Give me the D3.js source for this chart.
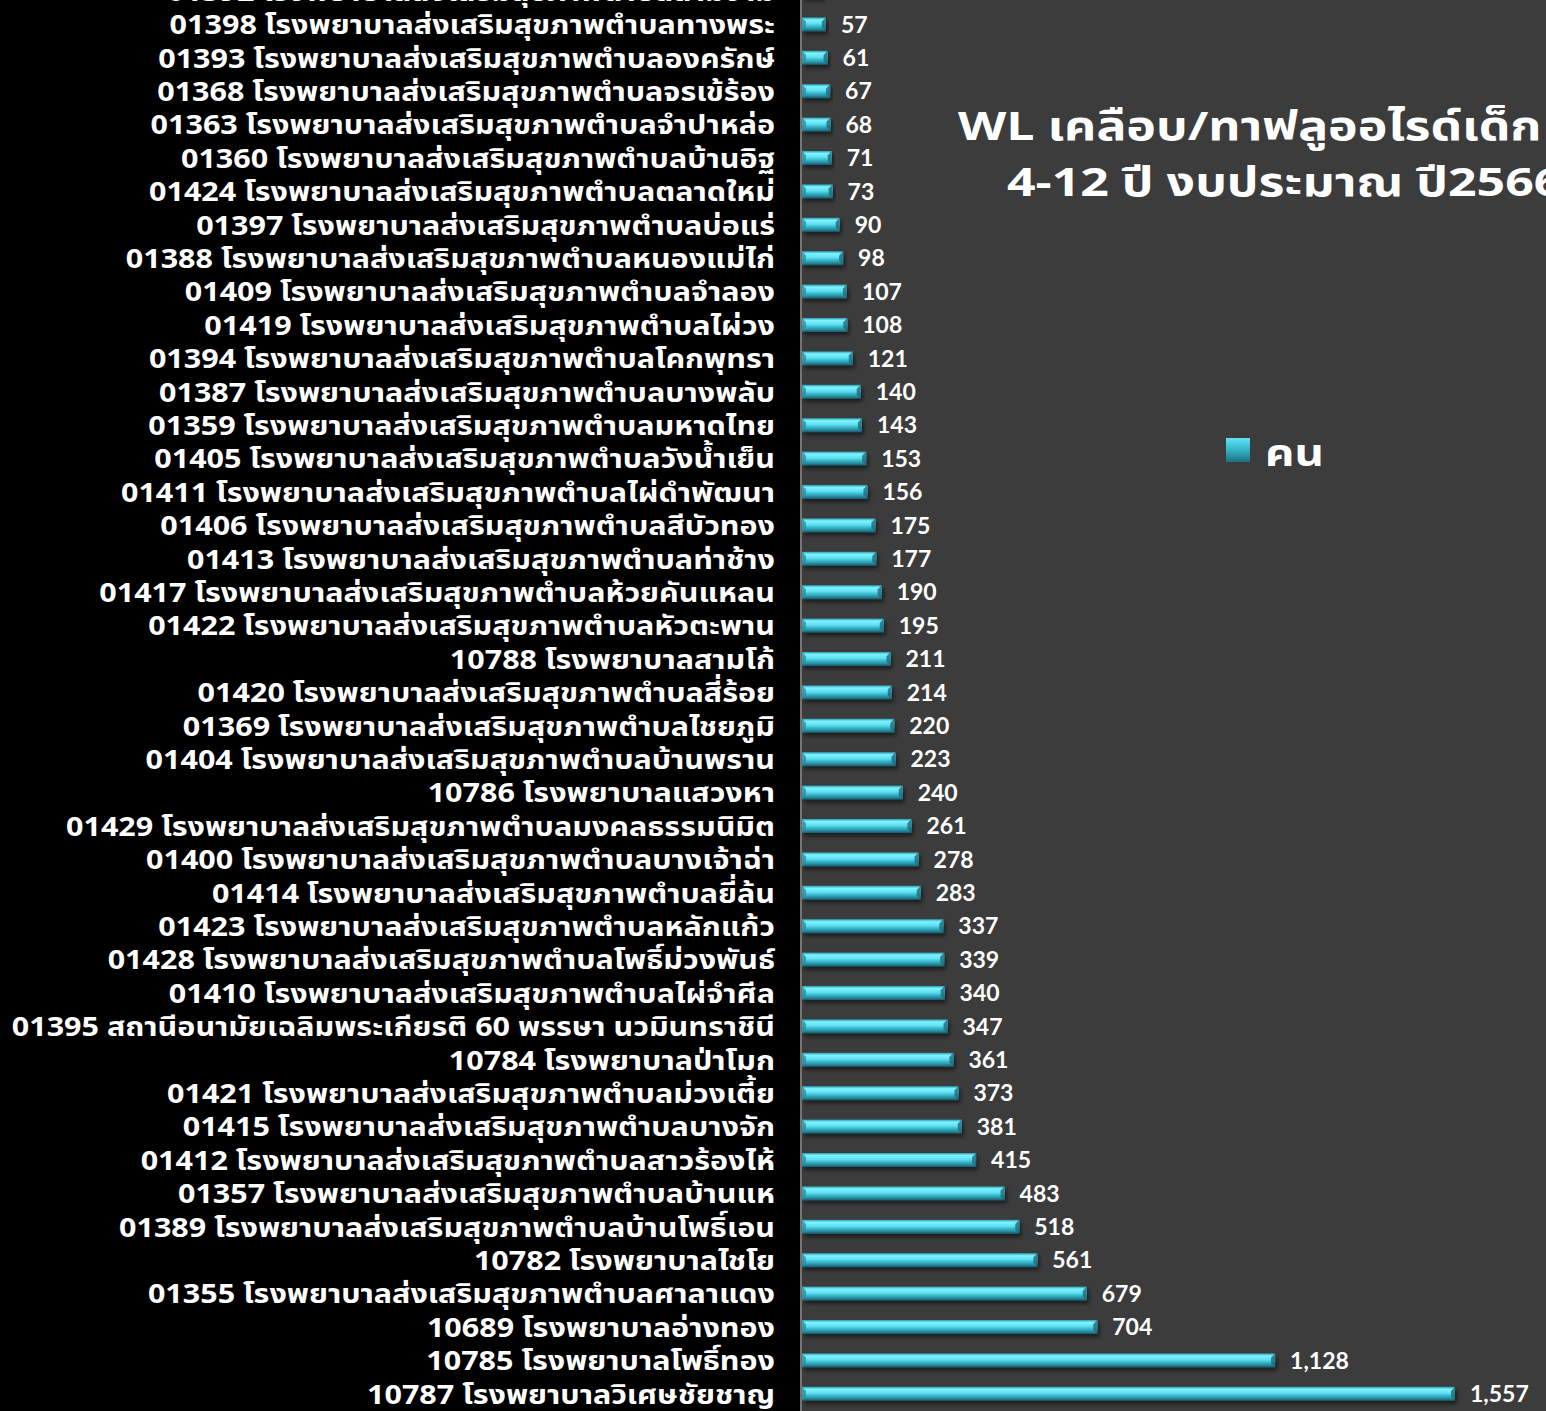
<!DOCTYPE html>
<html><head><meta charset="utf-8">
<script src="https://cdn.jsdelivr.net/npm/d3@7"></script>
<style>
html,body{margin:0;padding:0;background:#000;}
svg{display:block;}
</style></head>
<body>
<svg id="chart" width="1546" height="1411"></svg>
<script>
const categories = [
"01392 โรงพยาบาลส่งเสริมสุขภาพตำบลสามง่าม",
"01398 โรงพยาบาลส่งเสริมสุขภาพตำบลทางพระ",
"01393 โรงพยาบาลส่งเสริมสุขภาพตำบลองครักษ์",
"01368 โรงพยาบาลส่งเสริมสุขภาพตำบลจรเข้ร้อง",
"01363 โรงพยาบาลส่งเสริมสุขภาพตำบลจำปาหล่อ",
"01360 โรงพยาบาลส่งเสริมสุขภาพตำบลบ้านอิฐ",
"01424 โรงพยาบาลส่งเสริมสุขภาพตำบลตลาดใหม่",
"01397 โรงพยาบาลส่งเสริมสุขภาพตำบลบ่อแร่",
"01388 โรงพยาบาลส่งเสริมสุขภาพตำบลหนองแม่ไก่",
"01409 โรงพยาบาลส่งเสริมสุขภาพตำบลจำลอง",
"01419 โรงพยาบาลส่งเสริมสุขภาพตำบลไผ่วง",
"01394 โรงพยาบาลส่งเสริมสุขภาพตำบลโคกพุทรา",
"01387 โรงพยาบาลส่งเสริมสุขภาพตำบลบางพลับ",
"01359 โรงพยาบาลส่งเสริมสุขภาพตำบลมหาดไทย",
"01405 โรงพยาบาลส่งเสริมสุขภาพตำบลวังน้ำเย็น",
"01411 โรงพยาบาลส่งเสริมสุขภาพตำบลไผ่ดำพัฒนา",
"01406 โรงพยาบาลส่งเสริมสุขภาพตำบลสีบัวทอง",
"01413 โรงพยาบาลส่งเสริมสุขภาพตำบลท่าช้าง",
"01417 โรงพยาบาลส่งเสริมสุขภาพตำบลห้วยคันแหลน",
"01422 โรงพยาบาลส่งเสริมสุขภาพตำบลหัวตะพาน",
"10788 โรงพยาบาลสามโก้",
"01420 โรงพยาบาลส่งเสริมสุขภาพตำบลสี่ร้อย",
"01369 โรงพยาบาลส่งเสริมสุขภาพตำบลไชยภูมิ",
"01404 โรงพยาบาลส่งเสริมสุขภาพตำบลบ้านพราน",
"10786 โรงพยาบาลแสวงหา",
"01429 โรงพยาบาลส่งเสริมสุขภาพตำบลมงคลธรรมนิมิต",
"01400 โรงพยาบาลส่งเสริมสุขภาพตำบลบางเจ้าฉ่า",
"01414 โรงพยาบาลส่งเสริมสุขภาพตำบลยี่ล้น",
"01423 โรงพยาบาลส่งเสริมสุขภาพตำบลหลักแก้ว",
"01428 โรงพยาบาลส่งเสริมสุขภาพตำบลโพธิ์ม่วงพันธ์",
"01410 โรงพยาบาลส่งเสริมสุขภาพตำบลไผ่จำศีล",
"01395 สถานีอนามัยเฉลิมพระเกียรติ 60 พรรษา นวมินทราชินี",
"10784 โรงพยาบาลป่าโมก",
"01421 โรงพยาบาลส่งเสริมสุขภาพตำบลม่วงเตี้ย",
"01415 โรงพยาบาลส่งเสริมสุขภาพตำบลบางจัก",
"01412 โรงพยาบาลส่งเสริมสุขภาพตำบลสาวร้องไห้",
"01357 โรงพยาบาลส่งเสริมสุขภาพตำบลบ้านแห",
"01389 โรงพยาบาลส่งเสริมสุขภาพตำบลบ้านโพธิ์เอน",
"10782 โรงพยาบาลไชโย",
"01355 โรงพยาบาลส่งเสริมสุขภาพตำบลศาลาแดง",
"10689 โรงพยาบาลอ่างทอง",
"10785 โรงพยาบาลโพธิ์ทอง ",
"10787 โรงพยาบาลวิเศษชัยชาญ"
];
const values = [52,57,61,67,68,71,73,90,98,107,108,121,140,143,153,156,175,177,190,195,211,214,220,223,240,261,278,283,337,339,340,347,361,373,381,415,483,518,561,679,704,1128,1557];
const seriesName = "คน";
const titleLines = ["WL เคลือบ/ทาฟลูออไรด์เด็ก", "4-12 ปี งบประมาณ ปี2566"];

const W = 1546, H = 1411;
const plotLeft = 800;
const thaiFont = "'Noto Sans Thai', 'Noto Sans', sans-serif";
const svg = d3.select("#chart");
const defs = svg.append("defs");

const g1 = defs.append("linearGradient").attr("id","barGrad").attr("x1",0).attr("y1",0).attr("x2",0).attr("y2",1);
[[0,"#2a9fb3"],[0.18,"#7ff3ff"],[0.45,"#5fe0f2"],[0.62,"#3cbcd0"],[0.8,"#2a93a6"],[1,"#175a68"]]
  .forEach(([o,c])=>g1.append("stop").attr("offset",o).attr("stop-color",c));
const shadow = defs.append("filter").attr("id","sh").attr("x","-5%").attr("y","-50%").attr("width","115%").attr("height","250%");
shadow.append("feDropShadow").attr("dx",2).attr("dy",3).attr("stdDeviation",2).attr("flood-color","#000").attr("flood-opacity",0.55);

svg.append("rect").attr("x",0).attr("y",0).attr("width",W).attr("height",H).attr("fill","#000");
svg.append("rect").attr("x",plotLeft).attr("y",0).attr("width",W-plotLeft).attr("height",H).attr("fill","#3c3c3c");

const x = d3.scaleLinear().domain([0,1800]).range([802, 802 + 1800*(653/1557)]);
const y = d3.scaleBand().domain(categories).range([-25.7, 1410.5]).paddingInner(0.58).paddingOuter(0.29);

svg.append("line").attr("x1",801).attr("x2",801).attr("y1",0).attr("y2",H).attr("stroke","#8a8a8a").attr("stroke-width",1.5);

const data = categories.map((c,i)=>({c, v: values[i]}));

const bars = svg.append("g");
bars.selectAll("rect.bar").data(data).join("rect")
  .attr("class","bar")
  .attr("x", x(0))
  .attr("y", d=>y(d.c))
  .attr("width", d=>x(d.v)-x(0))
  .attr("height", y.bandwidth())
  .attr("fill","url(#barGrad)")
  .attr("filter","url(#sh)");
bars.selectAll("path.cap").data(data).join("path")
  .attr("class","cap")
  .attr("d", d=>{
    const xe = x(d.v), y0 = y(d.c), h = y.bandwidth(), b = Math.min(4, (xe-x(0))/3);
    return `M${xe-b},${y0+h*0.3} L${xe},${y0} L${xe},${y0+h} L${xe-b},${y0+h*0.7} Z`;
  })
  .attr("fill","#1d6a79").attr("opacity",0.8);
bars.selectAll("path.capl").data(data).join("path")
  .attr("class","capl")
  .attr("d", d=>{
    const xs = x(0), y0 = y(d.c), h = y.bandwidth(), b = 4;
    return `M${xs},${y0} L${xs+b},${y0+h*0.3} L${xs+b},${y0+h*0.7} L${xs},${y0+h} Z`;
  })
  .attr("fill","#2b8fa1").attr("opacity",0.8);

svg.append("g").selectAll("text").data(data).join("text")
  .attr("x", d=>x(d.v)+15)
  .attr("y", d=>y(d.c)+y.bandwidth()/2)
  .attr("dy","0.36em")
  .attr("fill","#fff")
  .attr("font-family","Lato, 'Open Sans', sans-serif")
  .attr("font-weight","bold")
  .attr("font-size",23)
  .text(d=>d3.format(",")(d.v));

// category labels (horizontally stretched to match the wide original face)
svg.append("g").selectAll("text").data(data).join("text")
  .attr("transform", d=>`translate(775,${y(d.c)+y.bandwidth()/2}) scale(1.13,1)`)
  .attr("text-anchor","end")
  .attr("dy","0.36em")
  .attr("fill","#fff")
  .attr("font-family",thaiFont)
  .attr("font-weight","bold")
  .attr("font-size",27)
  .text(d=>d.c);

// title
svg.append("text").attr("transform","translate(958,140) scale(1.25,1)")
  .attr("fill","#fff").attr("font-family",thaiFont)
  .attr("font-weight","bold").attr("font-size",40).text(titleLines[0]);
svg.append("text").attr("transform","translate(1007,196) scale(1.25,1)")
  .attr("fill","#fff").attr("font-family",thaiFont)
  .attr("font-weight","bold").attr("font-size",40).text(titleLines[1]);

// legend
const g2 = defs.append("linearGradient").attr("id","legGrad").attr("x1",0).attr("y1",0).attr("x2",0).attr("y2",1);
[[0,"#5fe3f5"],[0.5,"#35b3c8"],[1,"#1c7080"]].forEach(([o,c])=>g2.append("stop").attr("offset",o).attr("stop-color",c));
svg.append("rect").attr("x",1226).attr("y",438).attr("width",24).attr("height",24).attr("fill","url(#legGrad)");
svg.append("text").attr("transform","translate(1265,466) scale(1.2,1)")
  .attr("fill","#fff").attr("font-family",thaiFont)
  .attr("font-weight","bold").attr("font-size",38).text(seriesName);
</script>
</body></html>
